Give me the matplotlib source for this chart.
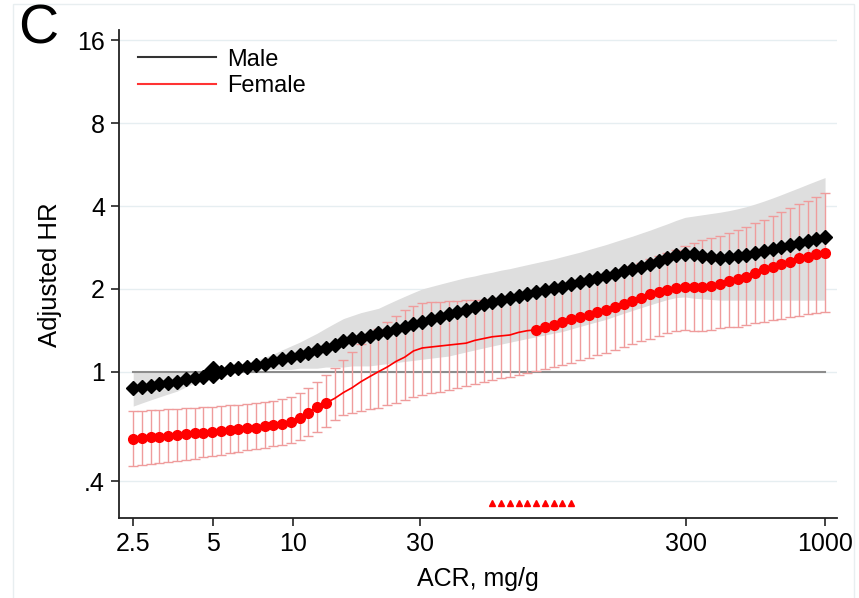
import matplotlib
matplotlib.use("Agg")
import matplotlib.pyplot as plt
from matplotlib.lines import Line2D
from matplotlib.patches import Rectangle

plt.rcParams['font.family'] = ['Liberation Sans', 'DejaVu Sans']

# ACR grid (mg/g) the curves were evaluated on
acr = [2.5, 2.697, 2.909, 3.138, 3.386, 3.652, 3.94, 4.251, 4.586, 4.947,
       5.337, 5.758, 6.211, 6.701, 7.229, 7.799, 8.413, 9.076, 9.791, 10.56,
       11.40, 12.29, 13.26, 14.31, 15.43, 16.65, 17.96, 19.38, 20.90, 22.55,
       24.33, 26.25, 28.31, 30.55, 32.95, 35.55, 38.35, 41.37, 44.63, 48.15,
       51.94, 56.03, 60.45, 65.21, 70.35, 75.89, 81.87, 88.32, 95.28, 102.8,
       110.9, 119.6, 129.0, 139.2, 150.2, 162.0, 174.8, 188.5, 203.4, 219.4,
       236.7, 255.4, 275.5, 297.2, 320.6, 345.9, 373.1, 402.5, 434.3, 468.5,
       505.4, 545.2, 588.2, 634.5, 684.5, 738.5, 796.7, 859.4, 927.2, 1000]

male_hr = [0.87, 0.88, 0.89, 0.90, 0.91, 0.92, 0.94, 0.95, 0.96, 0.99,
           1.00, 1.02, 1.03, 1.04, 1.06, 1.07, 1.09, 1.11, 1.13, 1.15,
           1.17, 1.20, 1.22, 1.25, 1.29, 1.31, 1.33, 1.35, 1.38, 1.40,
           1.43, 1.46, 1.49, 1.52, 1.55, 1.58, 1.62, 1.65, 1.68, 1.72,
           1.76, 1.79, 1.82, 1.86, 1.89, 1.92, 1.95, 1.98, 2.01, 2.04,
           2.08, 2.12, 2.15, 2.19, 2.23, 2.27, 2.32, 2.37, 2.41, 2.46,
           2.52, 2.58, 2.65, 2.69, 2.68, 2.64, 2.61, 2.60, 2.61, 2.63,
           2.66, 2.70, 2.75, 2.80, 2.85, 2.90, 2.94, 2.98, 3.03, 3.08]
male_lo = [0.75, 0.77, 0.79, 0.81, 0.83, 0.85, 0.88, 0.91, 0.94, 0.98,
           1.00, 1.00, 1.01, 1.01, 1.01, 1.02, 1.02, 1.02, 1.02, 1.03,
           1.03, 1.03, 1.04, 1.04, 1.04, 1.05, 1.05, 1.05, 1.06, 1.07,
           1.08, 1.09, 1.10, 1.11, 1.12, 1.13, 1.14, 1.16, 1.18, 1.20,
           1.22, 1.24, 1.26, 1.28, 1.30, 1.32, 1.34, 1.36, 1.38, 1.40,
           1.43, 1.46, 1.49, 1.52, 1.55, 1.59, 1.63, 1.67, 1.71, 1.75,
           1.79, 1.83, 1.86, 1.87, 1.85, 1.84, 1.83, 1.82, 1.82, 1.82,
           1.82, 1.82, 1.82, 1.82, 1.82, 1.82, 1.82, 1.82, 1.82, 1.82]
male_hi = [1.00, 1.00, 1.00, 1.00, 1.00, 1.00, 1.00, 1.00, 1.00, 1.00,
           1.01, 1.03, 1.05, 1.07, 1.10, 1.13, 1.16, 1.20, 1.24, 1.28,
           1.33, 1.38, 1.44, 1.50, 1.56, 1.60, 1.64, 1.67, 1.70, 1.76,
           1.82, 1.88, 1.94, 2.00, 2.04, 2.08, 2.12, 2.16, 2.20, 2.23,
           2.27, 2.30, 2.34, 2.37, 2.41, 2.45, 2.49, 2.53, 2.57, 2.62,
           2.67, 2.72, 2.78, 2.84, 2.90, 2.97, 3.04, 3.11, 3.19, 3.27,
           3.36, 3.45, 3.55, 3.64, 3.68, 3.72, 3.76, 3.80, 3.85, 3.91,
           3.98, 4.07, 4.17, 4.28, 4.40, 4.53, 4.66, 4.80, 4.94, 5.08]

female_hr = [0.57, 0.575, 0.578, 0.58, 0.585, 0.59, 0.593, 0.597, 0.60, 0.603,
             0.607, 0.612, 0.617, 0.622, 0.627, 0.633, 0.638, 0.645, 0.655, 0.68,
             0.71, 0.745, 0.77, 0.80, 0.84, 0.875, 0.92, 0.96, 1.00, 1.04,
             1.09, 1.13, 1.19, 1.22, 1.23, 1.24, 1.25, 1.26, 1.27, 1.30,
             1.32, 1.34, 1.35, 1.36, 1.39, 1.41, 1.42, 1.46, 1.48, 1.52,
             1.55, 1.58, 1.61, 1.65, 1.68, 1.72, 1.76, 1.81, 1.86, 1.91,
             1.95, 1.99, 2.02, 2.03, 2.03, 2.03, 2.05, 2.09, 2.13, 2.18,
             2.21, 2.29, 2.36, 2.41, 2.47, 2.51, 2.58, 2.62, 2.67, 2.71]
female_lo = [0.455, 0.458, 0.462, 0.466, 0.47, 0.474, 0.478, 0.483, 0.488, 0.494,
             0.50, 0.506, 0.512, 0.518, 0.524, 0.53, 0.536, 0.543, 0.55, 0.565,
             0.585, 0.605, 0.63, 0.67, 0.695, 0.71, 0.72, 0.73, 0.74, 0.755,
             0.77, 0.79, 0.81, 0.825, 0.835, 0.845, 0.855, 0.87, 0.885, 0.90,
             0.915, 0.93, 0.945, 0.96, 0.975, 0.99, 1.005, 1.02, 1.04, 1.06,
             1.08, 1.10, 1.12, 1.15, 1.17, 1.20, 1.23, 1.26, 1.29, 1.32,
             1.35, 1.38, 1.41, 1.42, 1.41, 1.41, 1.42, 1.44, 1.45, 1.46,
             1.48, 1.50, 1.52, 1.54, 1.56, 1.58, 1.60, 1.62, 1.64, 1.65]
female_hi = [0.72, 0.722, 0.725, 0.727, 0.73, 0.733, 0.736, 0.74, 0.743, 0.746,
             0.75, 0.755, 0.76, 0.765, 0.77, 0.777, 0.785, 0.795, 0.81, 0.84,
             0.875, 0.92, 0.975, 1.03, 1.10, 1.18, 1.26, 1.35, 1.43, 1.52,
             1.60, 1.68, 1.74, 1.78, 1.80, 1.80, 1.81, 1.81, 1.82, 1.82,
             1.83, 1.84, 1.86, 1.88, 1.90, 1.92, 1.94, 1.96, 1.99, 2.02,
             2.06, 2.10, 2.14, 2.19, 2.24, 2.30, 2.36, 2.42, 2.49, 2.56,
             2.63, 2.70, 2.78, 2.86, 2.93, 3.00, 3.06, 3.12, 3.19, 3.27,
             3.36, 3.46, 3.57, 3.68, 3.80, 3.93, 4.06, 4.19, 4.32, 4.45]
# female points drawn with markers (others are line only)
female_marked = list(range(0, 23)) + list(range(46, 80))

# reference category (ACR 5 mg/g)
ref_acr = 5
ref_hr = 1

# ACR values flagged with triangles near the bottom
flag_acr = [56.03, 60.45, 65.21, 70.35, 75.89, 81.87, 88.32, 95.28, 102.8, 110.9]
flag_y = 0.334

xticks = [2.5, 5, 10, 30, 300, 1000]
xticklabels = ['2.5', '5', '10', '30', '300', '1000']
yticks = [0.4, 1, 2, 4, 8, 16]
yticklabels = ['.4', '1', '2', '4', '8', '16']

fig = plt.figure(figsize=(8.59, 5.98), dpi=100)
ax = fig.add_axes([0.1385, 0.1338, 0.8359, 0.8164])

ax.set_xscale('log')
ax.set_yscale('log')
ax.set_xlim(2.21, 1109)
ax.set_ylim(0.294, 17.5)

for yt in yticks:
    ax.axhline(yt, color='#e6eef1', lw=1.0, zorder=0)

ax.fill_between(acr, male_lo, male_hi, color='#dedede', lw=0, zorder=1)
ax.plot([acr[0], acr[-1]], [1, 1], color='#8c8c8c', lw=1.5, zorder=2)

ax.errorbar(acr, female_hr,
            yerr=[[h - l for h, l in zip(female_hr, female_lo)],
                  [u - h for h, u in zip(female_hr, female_hi)]],
            fmt='none', ecolor='#ef9c9c', elinewidth=1.0, capsize=3.4,
            capthick=1.0, zorder=3)

ax.plot(acr, female_hr, color='#ff0000', lw=1.2, zorder=4)
ax.plot([acr[i] for i in female_marked], [female_hr[i] for i in female_marked],
        ls='none', marker='o', ms=7, color='#ff0000', mec='#ff0000', zorder=5)

ax.plot(acr, male_hr, color='black', lw=1.5, marker='D', ms=7, zorder=6)
ax.plot([ref_acr], [ref_hr], ls='none', marker='D', ms=11, color='black', zorder=7)

ax.plot(flag_acr, [flag_y] * len(flag_acr), ls='none', marker='^', ms=4,
        color='#ff0000', zorder=5)

ax.set_xticks(xticks)
ax.set_xticklabels(xticklabels)
ax.set_yticks(yticks)
ax.set_yticklabels(yticklabels)
ax.minorticks_off()
ax.tick_params(axis='both', labelsize=18, length=6, width=1.2, direction='out',
               color='#222222', pad=4)

for s in ['top', 'right']:
    ax.spines[s].set_visible(False)
for s in ['left', 'bottom']:
    ax.spines[s].set_linewidth(1.3)
    ax.spines[s].set_color('#222222')

ax.set_xlabel('ACR, mg/g', fontsize=18)
ax.set_ylabel('Adjusted HR', fontsize=18.5)
ax.xaxis.set_label_coords(0.5, -0.10)
ax.yaxis.set_label_coords(-0.08, 0.498)

handles = [Line2D([], [], color='#333333', lw=1.5),
           Line2D([], [], color='#ff3333', lw=1.5)]
ax.legend(handles, ['Male', 'Female'], loc='upper left', frameon=False,
          fontsize=17, handlelength=3.3, handletextpad=0.5, labelspacing=0.2,
          bbox_to_anchor=(0.0, 1.0), borderaxespad=0.4)

fig.text(0.045, 0.95, 'C', fontsize=40, ha='center', va='center',
         family=['Liberation Sans Narrow', 'Liberation Sans', 'DejaVu Sans'])

fig.patches.append(Rectangle((0.0151, -0.01), 0.9791, 1.0033,
                             transform=fig.transFigure, fill=False,
                             edgecolor='#e8eef0', lw=1.0))

fig.savefig('out.png', dpi=100)
